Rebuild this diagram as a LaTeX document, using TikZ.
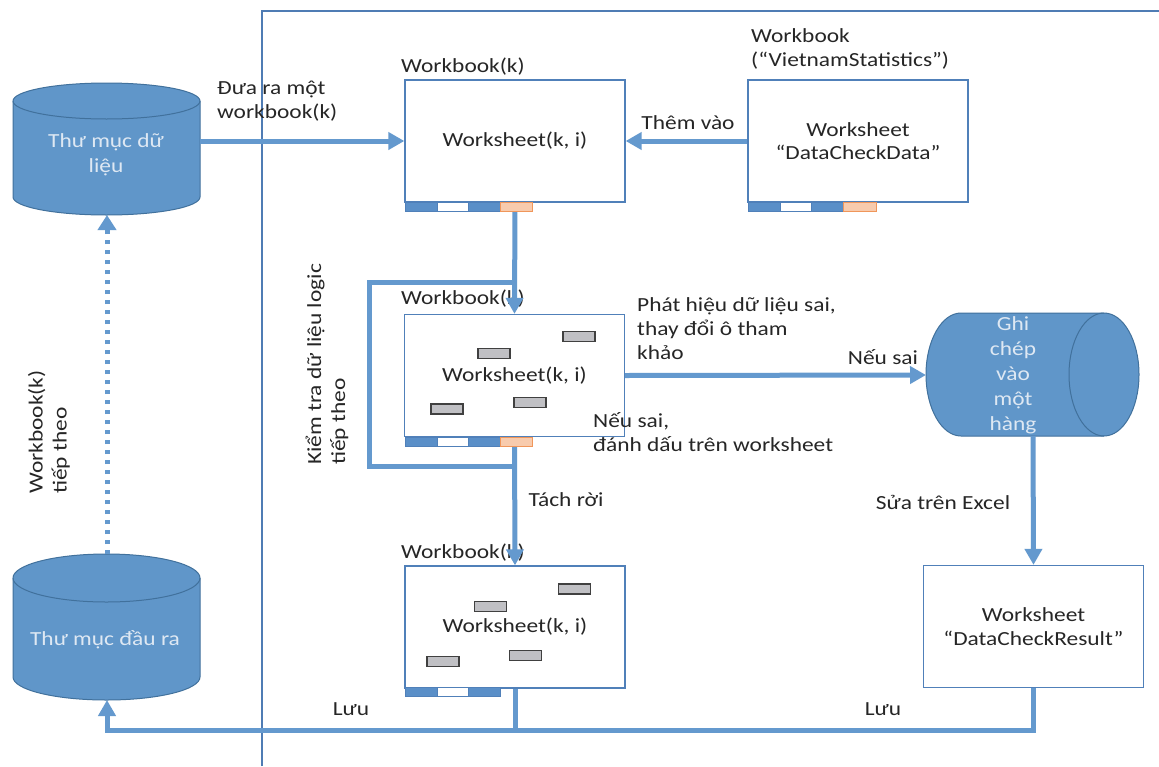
\documentclass[tikz,border=0pt]{standalone}
\usepackage{fontspec}
\setmainfont{Carlito}[FakeStretch=1.17]
\usetikzlibrary{arrows.meta}
\definecolor{txt}{RGB}{38,38,38}
\definecolor{flow}{RGB}{100,153,206}
\definecolor{frame}{RGB}{79,124,180}
\definecolor{cylfill}{RGB}{96,150,201}
\definecolor{cylline}{RGB}{65,113,156}
\definecolor{cyltext}{RGB}{222,232,243}
\definecolor{boxline}{RGB}{80,128,185}
\definecolor{tabblue}{RGB}{90,143,200}
\definecolor{taborange}{RGB}{248,203,173}
\definecolor{taborline}{RGB}{240,150,90}
\definecolor{cellfill}{RGB}{192,192,196}
\definecolor{cellline}{RGB}{64,64,64}
\tikzset{
  lbl/.style={font=\fontsize{20}{24}\selectfont, text=txt, inner sep=0pt},
  cyllbl/.style={font=\fontsize{20}{25}\selectfont, text=cyltext, inner sep=0pt, align=center},
  sheet/.style={draw=boxline, line width=1.3pt, fill=white, minimum width=220pt, minimum height=122pt, inner sep=0pt, font=\fontsize{20}{23.5}\selectfont, text=txt, align=center},
  cell/.style={draw=cellline, fill=cellfill, line width=1.2pt, minimum width=32pt, minimum height=10pt, inner sep=0pt},
  tab/.style={draw=boxline, line width=0.8pt},
  otab/.style={draw=taborline, fill=taborange, line width=0.8pt},
  flowline/.style={draw=flow, line width=5pt},
  flowarrow/.style={flowline, -{Triangle[width=17pt,length=16pt]}},
  dotflow/.style={flowline, dash pattern=on 4.5pt off 5.5pt, -{Triangle[width=18pt,length=15pt]}},
  frameline/.style={draw=frame, line width=1.5pt},
  cyl/.style={fill=cylfill, draw=cylline, line width=1pt},
}
\begin{document}
\begin{tikzpicture}[x=1pt,y=-1pt]
\useasboundingbox (0,0) rectangle (1159,766);
\fill[white] (0,0) rectangle (1159,766);
% frame lines
\coordinate (fr0) at (262,766);
\coordinate (fr1) at (262,11);
\coordinate (fr2) at (1159,11);
\draw[frameline] (fr0) -- (fr1) -- (fr2);

% cylinder 1 (vertical)
\draw[cyl] (13,101) -- (13,197) arc[start angle=180,end angle=360,x radius=93.5pt,y radius=18pt] -- (200,101) arc[start angle=0,end angle=180,x radius=93.5pt,y radius=18pt] -- cycle;
\draw[cylline, line width=1pt] (13,101) arc[start angle=180,end angle=360,x radius=93.5pt,y radius=18pt];
\node[cyllbl] (cyl1) at (106,154.5) {Thư mục dữ\\liệu};
\coordinate (c1e) at (200,141);
\coordinate (c1b) at (107,215);

% cylinder 3 (vertical)
\draw[cyl] (13,578) -- (13,677) arc[start angle=180,end angle=360,x radius=93.5pt,y radius=23pt] -- (200,578) arc[start angle=0,end angle=180,x radius=93.5pt,y radius=24pt] -- cycle;
\draw[cylline, line width=1pt] (13,578) arc[start angle=180,end angle=360,x radius=93.5pt,y radius=24pt];
\node[cyllbl] (cyl3) at (105,640) {Thư mục đầu ra};
\coordinate (c3t) at (107,554);
\coordinate (c3b) at (107,700);

% cylinder 2 (horizontal)
\draw[cyl] (961,313) -- (1104,313) arc[start angle=90,end angle=-90,x radius=35pt,y radius=61.5pt] -- (961,436) arc[start angle=270,end angle=90,x radius=35pt,y radius=61.5pt] -- cycle;
\draw[cylline, line width=1pt] (1104,313) arc[start angle=90,end angle=270,x radius=35pt,y radius=61.5pt];
\node[cyllbl] (cyl2) at (1013,375) {Ghi\\chép\\vào\\một\\hàng};
\coordinate (c2w) at (926,375);
\coordinate (c2b) at (1033,436);

% boxes
\node[sheet] (box1) at (515,141) {Worksheet(k, i)};
\node[sheet] (box2) at (858,141) {Worksheet\\“DataCheckData”};
\node[sheet] (box3) at (514.5,375.5) {Worksheet(k, i)};
\node[sheet] (box4) at (515,627) {Worksheet(k, i)};
\node[sheet] (box5) at (1033.5,626.5) {Worksheet\\“DataCheckResult”};

% labels
\node[lbl, anchor=west] (wb1) at (401,67) {Workbook(k)};
\node[lbl, anchor=west] (wb3) at (401,299) {Workbook(k)};
\node[lbl, anchor=west] (wb4) at (401,553) {Workbook(k)};
\node[lbl, anchor=west, align=left] (wbvs) at (751,49) {Workbook\\(“VietnamStatistics”)};
\node[lbl, anchor=west, align=left] (dua) at (217,101) {Đưa ra một\\workbook(k)};
\node[lbl] (them) at (688,123) {Thêm vào};
\node[lbl, anchor=west, align=left] (phat) at (637,329) {Phát hiệu dữ liệu sai,\\thay đổi ô tham\\khảo};
\node[lbl] (neu1) at (883,357) {Nếu sai};
\node[lbl, anchor=west, align=left] (neu2) at (593,432.5) {Nếu sai,\\đánh dấu trên worksheet};
\node[lbl] (tach) at (566,500) {Tách rời};
\node[lbl] (sua) at (943,502) {Sửa trên Excel};
\node[lbl] (luu1) at (351,709) {Lưu};
\node[lbl] (luu2) at (883,709) {Lưu};
\node[lbl, rotate=90, anchor=west, align=left] (kiem) at (327,465) {Kiểm tra dữ liệu logic\\tiếp theo};
\node[lbl, rotate=90, anchor=west, align=left] (next) at (49,494) {Workbook(k)\\tiếp theo};

% connectors
\coordinate (lpTL) at (369,282);
\coordinate (lpBL) at (369,466);
\coordinate (bl) at (107,730);
\draw[flowarrow] (c1e) -- (box1.west);
\draw[flowarrow] (box2.west) -- (box1.east);
\draw[flowarrow] (box1.south) -- (box3.north);
\draw[flowline] (box1.south |- lpTL) -- (lpTL) -- (lpBL) -- (box3.south |- lpBL);
\draw[flowarrow] (box3.east) -- (c2w);
\draw[flowarrow] (c2b) -- (box5.north);
\draw[flowarrow] (box3.south) -- (box4.north);
\draw[flowline] (box4.south) -- (box4.south |- bl);
\draw[flowarrow] (box5.south) -- (box5.south |- bl) -- (bl) -- (c3b);
\draw[dotflow] (c3t) -- (c1b);

% tab bars
\foreach \x/\c in {0/tabblue,32/white,63/tabblue}{
  \draw[tab, fill=\c] ({405+\x},202) rectangle ++(32,9);
  \draw[tab, fill=\c] ({748+\x},202) rectangle ++(32,9);
  \draw[tab, fill=\c] ({405+\x},437) rectangle ++(32,9);
  \draw[tab, fill=\c] ({405+\x},687) rectangle ++(32,9);
}
\draw[otab] (500,202) rectangle ++(32,9);
\draw[otab] (843,202) rectangle ++(33,9);
\draw[otab] (500,437) rectangle ++(32,9);

% cells
\node[cell] (g1) at (579,336.5) {};
\node[cell] (g2) at (494,353.5) {};
\node[cell] (g3) at (447,409) {};
\node[cell] (g4) at (530,402.5) {};
\node[cell] (g5) at (574.5,589) {};
\node[cell] (g6) at (490.5,606.5) {};
\node[cell] (g7) at (443,661.5) {};
\node[cell] (g8) at (525.5,655.5) {};
\end{tikzpicture}
\end{document}
